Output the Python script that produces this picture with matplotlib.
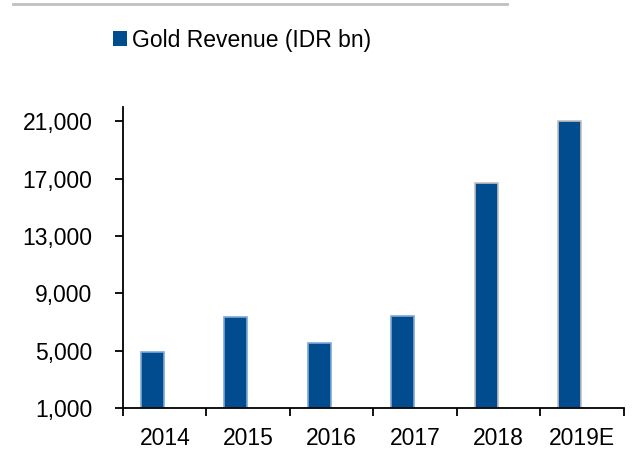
import numpy as np
import matplotlib.pyplot as plt
from matplotlib.patches import Patch
from matplotlib.ticker import FuncFormatter, FixedLocator

years = ['2014', '2015', '2016', '2017', '2018', '2019E']
gold_revenue = [4900, 7320, 5550, 7410, 16700, 21050]
edge_colors = ['#7FA8D6', '#7FA8D6', '#7FA8D6', '#7FA8D6', '#C0C0C0', '#C0C0C0']
yticks = [1000, 5000, 9000, 13000, 17000, 21000]

plt.rcParams['font.family'] = ['Liberation Sans', 'DejaVu Sans']

fig = plt.figure(figsize=(6.36, 4.51), dpi=100)
ax = fig.add_axes([0.1934, 0.0953, 0.7877, 0.6674])

x = np.arange(len(years))
ax.bar(x - 0.15, np.array(gold_revenue) - 1000, bottom=1000, width=0.276,
       color='#004C8F', edgecolor=edge_colors, linewidth=1.2, zorder=2)

ax.set_xlim(-0.5, len(years) - 0.5)
ax.set_ylim(1000, 22000)

ax.set_yticks(yticks)
ax.yaxis.set_major_formatter(FuncFormatter(lambda v, p: f'{int(v):,}'))
ax.tick_params(axis='y', direction='out', length=6, width=1.3, pad=16,
               labelsize=16.5, colors='black')

ax.set_xticks(x)
ax.set_xticklabels(years)
ax.xaxis.set_minor_locator(FixedLocator(np.arange(-0.5, len(years), 1.0)))
ax.tick_params(axis='x', which='major', length=0, pad=14, labelsize=16.5)
ax.tick_params(axis='x', which='minor', direction='out', length=6, width=1.3)

for side in ['top', 'right']:
    ax.spines[side].set_visible(False)
for side in ['left', 'bottom']:
    ax.spines[side].set_linewidth(1.3)

handle = Patch(facecolor='#004C8F', edgecolor='none', label='Gold Revenue (IDR bn)')
fig.legend(handles=[handle], loc='center left', bbox_to_anchor=(0.177, 0.911),
           frameon=False, fontsize=16.5, handlelength=0.61, handleheight=0.61,
           handletextpad=0.25, borderpad=0, borderaxespad=0)

fig.add_artist(plt.Line2D([0.021, 0.797], [0.991, 0.991], color='#C0C0C0',
                          linewidth=2, transform=fig.transFigure))

fig.savefig('out.png', dpi=100)
